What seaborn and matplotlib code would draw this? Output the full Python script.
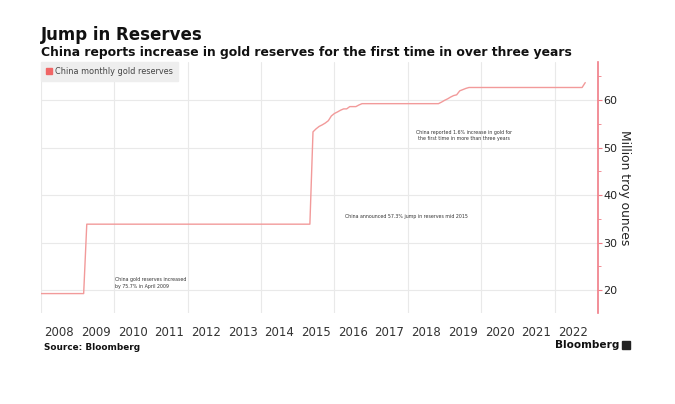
import pandas as pd
import matplotlib.pyplot as plt
import seaborn as sns
from matplotlib.patches import Patch, Rectangle
from matplotlib.ticker import MultipleLocator

# China monthly gold reserves (million troy ounces), points where the level changes
months = [
    "2008-01", "2009-03", "2009-04", "2015-05", "2015-06", "2015-07", "2015-08",
    "2015-09", "2015-10", "2015-11", "2015-12", "2016-01", "2016-02", "2016-03",
    "2016-04", "2016-05", "2016-06", "2016-07", "2016-08", "2016-09", "2016-10",
    "2018-11", "2018-12", "2019-01", "2019-02", "2019-03", "2019-04", "2019-05",
    "2019-06", "2019-07", "2019-08", "2019-09", "2022-10", "2022-11",
]
reserves = [
    19.29, 19.29, 33.89, 33.89, 53.31, 53.93, 54.45,
    54.78, 55.16, 55.66, 56.66, 57.18, 57.51, 57.86,
    58.14, 58.14, 58.62, 58.62, 58.62, 58.97, 59.24,
    59.24, 59.56, 59.94, 60.26, 60.62, 60.94, 61.10,
    61.94, 62.19, 62.45, 62.64, 62.64, 63.67,
]
year_labels = [str(y) for y in range(2008, 2023)]
y_ticks = [20, 30, 40, 50, 60]

LINE = "#f29a9a"
SPINE = "#f07c86"
LEGEND_RED = "#f06666"

df = pd.DataFrame({"month": pd.to_datetime(months), "reserves": reserves})

sns.set_theme(style="whitegrid")
plt.rcParams["font.family"] = ["DejaVu Sans"]

fig = plt.figure(figsize=(6.75, 4.04), dpi=100)
ax = fig.add_axes([0.0607, 0.2252, 0.8252, 0.6213])

sns.lineplot(data=df, x="month", y="reserves", ax=ax, color=LINE, lw=1.0)

ax.set_xlim(pd.Timestamp("2008-01-01"), pd.Timestamp("2023-03-08"))
ax.set_ylim(15.2, 68)

# gridlines every two years, labels centred on each year
ax.set_xticks([pd.Timestamp(f"{y}-01-01") for y in range(2008, 2024, 2)])
ax.set_xticklabels([])
ax.set_xticks([pd.Timestamp(f"{y}-07-01") for y in year_labels], minor=True)
ax.set_xticklabels(year_labels, minor=True)
ax.tick_params(axis="x", which="both", length=0)
ax.tick_params(axis="x", which="minor", pad=9, labelsize=8.5, labelcolor="#333333")

ax.yaxis.tick_right()
ax.yaxis.set_label_position("right")
ax.set_yticks(y_ticks)
ax.yaxis.set_minor_locator(MultipleLocator(5))
ax.tick_params(axis="y", which="major", length=3, width=0.8, color=SPINE,
               labelsize=8, labelcolor="#222222", pad=1)
ax.tick_params(axis="y", which="minor", length=2, width=0.6, color=SPINE)
ax.set_ylabel("Million troy ounces", rotation=270, va="bottom", fontsize=8.8,
              color="#222222", labelpad=0.5)
ax.set_xlabel("")

ax.grid(True, which="major", color="#e9e9e9", lw=0.8)
ax.grid(False, which="minor")
for side in ["left", "top", "bottom"]:
    ax.spines[side].set_visible(False)
ax.spines["right"].set_color(SPINE)
ax.spines["right"].set_linewidth(1.2)

leg = ax.legend(handles=[Patch(color=LEGEND_RED, label="China monthly gold reserves")],
                loc="upper left", bbox_to_anchor=(0, 1), borderaxespad=0,
                fontsize=5.9, frameon=True, fancybox=False, facecolor="#eeeeee",
                edgecolor="#eeeeee", framealpha=1, handlelength=0.75, handleheight=0.75,
                handletextpad=0.35, borderpad=0.6)
for t in leg.get_texts():
    t.set_color("#444444")

note_kw = dict(fontsize=3.45, color="#333333")
ax.text(pd.Timestamp("2010-01-10"), 21.5, "China gold reserves increased\nby 75.7% in April 2009",
        ha="left", va="center", linespacing=1.3, **note_kw)
ax.text(pd.Timestamp("2016-04-15"), 35.4, "China announced 57.3% jump in reserves mid 2015",
        ha="left", va="center", **note_kw)
ax.text(pd.Timestamp("2019-07-15"), 52.6,
        "China reported 1.6% increase in gold for\nthe first time in more than three years",
        ha="center", va="center", linespacing=1.3, **note_kw)

fig.text(41 / 675, 1 - 39.5 / 404, "Jump in Reserves", fontsize=12, fontweight="bold",
         color="#111111", va="baseline")
fig.text(41 / 675, 1 - 56 / 404,
         "China reports increase in gold reserves for the first time in over three years",
         fontsize=8.9, fontweight="bold", color="#111111", va="baseline")
fig.text(44 / 675, 1 - 350 / 404, "Source: Bloomberg", fontsize=6.4, fontweight="bold",
         color="#111111", va="baseline")
fig.text(619 / 675, 1 - 348 / 404, "Bloomberg", fontsize=7.6, fontweight="bold",
         color="#111111", va="baseline", ha="right")
fig.patches.append(Rectangle((622 / 675, 1 - 349 / 404), 8 / 675, 8 / 404,
                             transform=fig.transFigure, color="#222222"))

fig.savefig("out.png", dpi=100)
